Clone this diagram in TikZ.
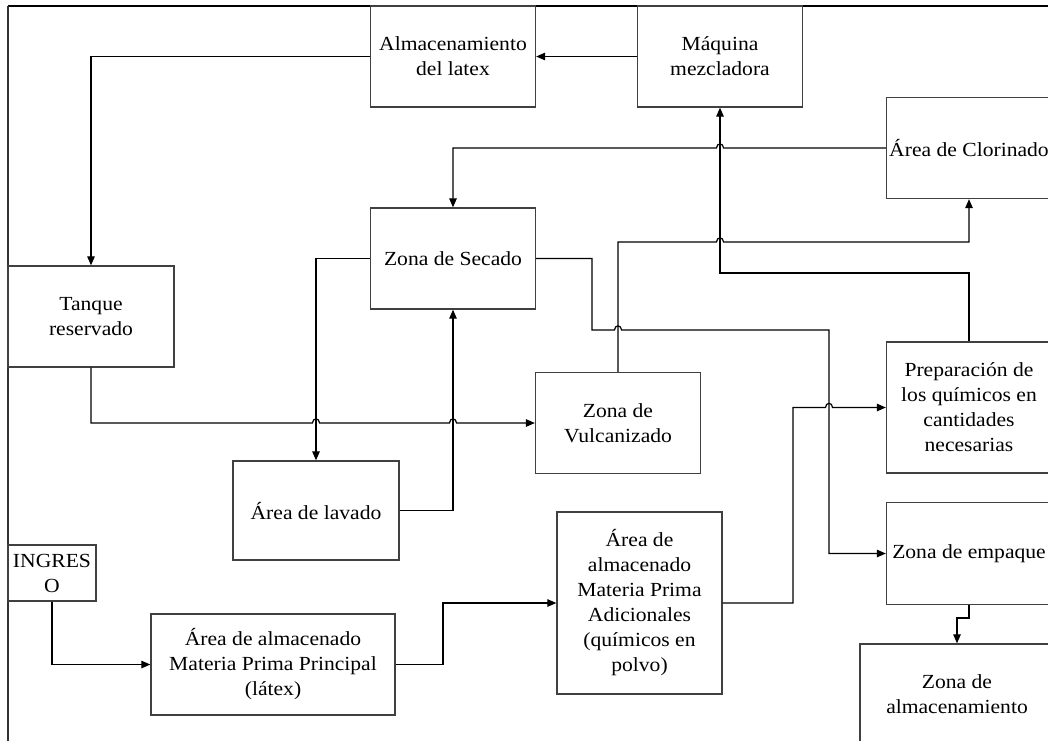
\documentclass[tikz,border=0pt]{standalone}
\usepackage{fontspec}
\setmainfont{Liberation Serif}[FakeStretch=1.08]
\usetikzlibrary{arrows.meta}
\begin{document}
\begin{tikzpicture}[x=1pt,y=-1pt,
  box/.style={draw=black!75, line width=1.3pt, fill=white, align=center,
    inner sep=0pt, font=\fontsize{20}{25}\selectfont},
  conn/.style={line width=1.2pt, black},
  arr/.style={conn, -{Triangle[length=9pt,width=7.5pt]}}]
\useasboundingbox (0,0) rectangle (1048,740);
\begin{scope}
\clip (0,0) rectangle (1048,740);
% frame
\draw[line width=1.6pt] (8,6) -- (1070,6);
\draw[line width=1.3pt, black!80] (8,6) -- (8,760);
% boxes
\node[box, minimum width=165pt, minimum height=101pt] (alm) at (453,56.5) {Almacenamiento\\del latex};
\node[box, minimum width=165pt, minimum height=101pt] (maq) at (720,56.5) {Máquina\\mezcladora};
\node[box, minimum width=165pt, minimum height=101pt] (clor) at (969,148) {Área de Clorinado};
\node[box, minimum width=165pt, minimum height=101pt] (sec) at (453,258.5) {Zona de Secado};
\node[box, minimum width=166pt, minimum height=101pt] (tan) at (91,316.5) {Tanque\\reservado};
\node[box, minimum width=165pt, minimum height=101pt] (vul) at (618,423) {Zona de\\Vulcanizado};
\node[box, minimum width=165pt, minimum height=131pt] (prep) at (969,407.5) {Preparación de\\los químicos en\\cantidades\\necesarias};
\node[box, minimum width=166pt, minimum height=99pt] (lav) at (316,510.5) {Área de lavado};
\node[box, minimum width=88pt, minimum height=56pt] (ing) at (52,573) {INGRES\\O};
\node[box, minimum width=244pt, minimum height=101pt] (pri) at (273,664.5) {Área de almacenado\\Materia Prima Principal\\(látex)};
\node[box, minimum width=165pt, minimum height=182pt] (adi) at (639.5,603) {Área de\\almacenado\\Materia Prima\\Adicionales\\(químicos en\\polvo)};
\node[box, minimum width=165pt, minimum height=102pt] (emp) at (969,553.5) {Zona de empaque};
\node[box, minimum width=194pt, minimum height=101pt] (zalm) at (957,694.5) {Zona de\\almacenamiento};
% connectors
\draw[arr] (maq.west) -- (alm.east);
\draw[arr] (alm.west) -| (tan.north);
\draw[arr] (tan.south) |- (312.5,423)
  .. controls (312.5,417.5) and (319.5,417.5) .. (319.5,423) -- (449.5,423)
  .. controls (449.5,417.5) and (456.5,417.5) .. (456.5,423) -- (vul.west);
\draw[arr] (clor.west) -- (723.5,148)
  .. controls (723.5,142.5) and (716.5,142.5) .. (716.5,148) -| (sec.north);
\draw[arr] (sec.west) -| (lav.north);
\draw[arr] (lav.east) -| (sec.south);
\draw[arr] (sec.east) -- (592,258.5) -- (592,330) -- (614.5,330)
  .. controls (614.5,324.5) and (621.5,324.5) .. (621.5,330) -- (829,330) |- (emp.west);
\draw[arr] (vul.north) -- (618,242) -- (716.5,242)
  .. controls (716.5,236.5) and (723.5,236.5) .. (723.5,242) -| (clor.south);
\draw[arr] (prep.north) -- (969,273) -| (maq.south);
\draw[arr] (pri.east) -- (443,664.5) |- (adi.west);
\draw[arr] (adi.east) -- (793,603) |- (825.5,407.5)
  .. controls (825.5,402) and (832.5,402) .. (832.5,407.5) -- (prep.west);
\draw[arr] (ing.south) |- (pri.west);
\draw[arr] (emp.south) -- (969,618) -| (zalm.north);
\end{scope}
\end{tikzpicture}
\end{document}
